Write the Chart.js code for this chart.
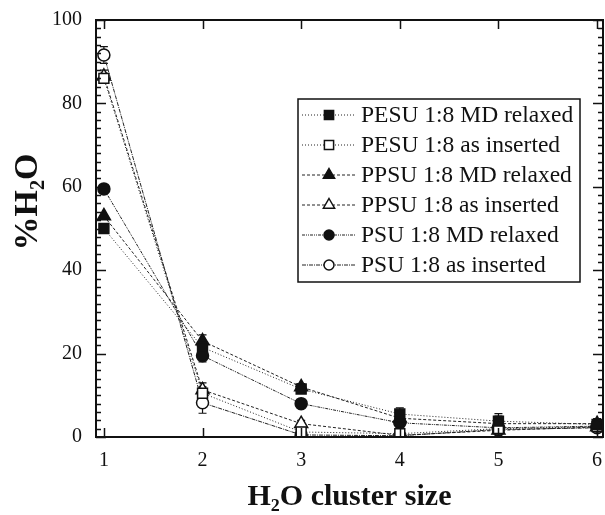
<!DOCTYPE html>
<html>
<head>
<meta charset="utf-8">
<script src="https://cdn.jsdelivr.net/npm/chart.js@4.4.1/dist/chart.umd.min.js"></script>
<style>
  html, body { margin: 0; padding: 0; background: #fff; }
</style>
</head>
<body>
<canvas id="myChart" width="605" height="515"></canvas>
<script>
// cluster sizes on the x axis
const clusterSizes = [1, 2, 3, 4, 5, 6]
const yTickValues = [0, 20, 40, 60, 80, 100]
const yTitle = '%H₂O'
const xTitle = 'H₂O cluster size'

const seriesLabels = [
  'PESU 1:8 MD relaxed',
  'PESU 1:8 as inserted',
  'PPSU 1:8 MD relaxed',
  'PPSU 1:8 as inserted',
  'PSU 1:8 MD relaxed',
  'PSU 1:8 as inserted',
]

// % H2O values
const pesuRelaxed  = [50.0, 21.5, 11.5, 5.5, 3.8, 3.0]
const pesuInserted = [86.0, 10.5, 1.2, 0.8, 2.0, 2.5]
const ppsuRelaxed  = [53.0, 23.0, 12.0, 4.5, 3.2, 3.2]
const ppsuInserted = [86.5, 11.3, 3.2, 0.4, 1.6, 2.4]
const psuRelaxed   = [59.5, 19.5, 8.0, 3.4, 2.2, 2.6]
const psuInserted  = [91.6, 8.2, 0.5, 0.3, 1.8, 2.2]

// error bar half widths
const pesuRelaxedErr  = [0, 0, 0, 1.5, 1.8, 1.2]
const pesuInsertedErr = [1.2, 1.5, 0, 0.8, 0, 0]
const ppsuRelaxedErr  = [0, 1.5, 0.8, 1.5, 1.8, 1.2]
const ppsuInsertedErr = [1.5, 1.7, 0.8, 0, 0, 0]
const psuRelaxedErr   = [0, 1.5, 0, 1.5, 1.8, 1.2]
const psuInsertedErr  = [2.0, 2.5, 0, 0, 0, 0]

const serif = "'Liberation Serif', 'Times New Roman', serif"
Chart.defaults.font.family = serif
Chart.defaults.color = '#111'

const toPoints = (values) => clusterSizes.map((x, i) => ({ x: x, y: values[i] }))

const makeSet = (label, values, errors, style, filled, dash, radius) => ({
  label: label,
  data: toPoints(values),
  errors: errors,
  borderColor: '#222',
  borderWidth: 1,
  borderDash: dash,
  pointStyle: style,
  pointRadius: radius,
  pointHoverRadius: radius,
  pointBackgroundColor: filled ? '#111' : '#fff',
  pointBorderColor: '#111',
  pointBorderWidth: 1.5,
  fill: false,
  tension: 0,
})

const datasets = [
  makeSet(seriesLabels[0], pesuRelaxed, pesuRelaxedErr, 'rect', true, [1, 2], 7),
  makeSet(seriesLabels[1], pesuInserted, pesuInsertedErr, 'rect', false, [1, 2], 7),
  makeSet(seriesLabels[2], ppsuRelaxed, ppsuRelaxedErr, 'triangle', true, [3, 2], 7.5),
  makeSet(seriesLabels[3], ppsuInserted, ppsuInsertedErr, 'triangle', false, [3, 2], 7.5),
  makeSet(seriesLabels[4], psuRelaxed, psuRelaxedErr, 'circle', true, [3, 1, 1, 1, 1, 1], 6),
  makeSet(seriesLabels[5], psuInserted, psuInsertedErr, 'circle', false, [4, 1, 1, 1], 6),
]

// vertical error bars, drawn under the markers
const errorBars = {
  id: 'errorBars',
  beforeDatasetsDraw(chart) {
    const ctx = chart.ctx
    const xs = chart.scales.x
    const ys = chart.scales.y
    ctx.save()
    ctx.strokeStyle = '#111'
    ctx.lineWidth = 1.2
    chart.data.datasets.forEach(ds => {
      ds.data.forEach((p, i) => {
        const e = ds.errors[i]
        if (!e) return
        const px = xs.getPixelForValue(p.x)
        const top = ys.getPixelForValue(Math.min(100, p.y + e))
        const bot = ys.getPixelForValue(Math.max(0, p.y - e))
        ctx.beginPath()
        ctx.moveTo(px, top); ctx.lineTo(px, bot)
        ctx.moveTo(px - 4, top); ctx.lineTo(px + 4, top)
        ctx.moveTo(px - 4, bot); ctx.lineTo(px + 4, bot)
        ctx.stroke()
      })
    })
    ctx.restore()
  }
}

// closed frame with inward ticks on all four sides, plus the y title
const frameTicks = {
  id: 'frameTicks',
  afterDraw(chart) {
    const ctx = chart.ctx
    const a = chart.chartArea
    const xs = chart.scales.x
    const ys = chart.scales.y
    ctx.save()
    ctx.strokeStyle = '#111'
    ctx.lineWidth = 1.5
    ctx.beginPath()
    for (const v of clusterSizes) {
      const px = Math.round(xs.getPixelForValue(v)) + 0.5
      ctx.moveTo(px, a.bottom); ctx.lineTo(px, a.bottom - 9)
      ctx.moveTo(px, a.top); ctx.lineTo(px, a.top + 9)
    }
    for (let v = 0; v <= 100; v += 2) {
      const py = Math.round(ys.getPixelForValue(v)) + 0.5
      const len = v % 20 === 0 ? 10 : 5
      ctx.moveTo(a.left, py); ctx.lineTo(a.left + len, py)
      ctx.moveTo(a.right, py); ctx.lineTo(a.right - len, py)
    }
    ctx.stroke()
    ctx.lineWidth = 2
    ctx.strokeRect(a.left, a.top, a.right - a.left, a.bottom - a.top)

    ctx.translate(28, 202)
    ctx.rotate(-Math.PI / 2)
    ctx.fillStyle = '#111'
    ctx.font = 'bold 34px ' + serif
    ctx.textAlign = 'center'
    ctx.textBaseline = 'middle'
    ctx.fillText(yTitle, 0, 0)
    ctx.restore()
  }
}

const drawMarker = (ctx, style, filled, x, y, r) => {
  ctx.beginPath()
  if (style === 'rect') {
    const s = r * Math.SQRT1_2
    ctx.rect(x - s, y - s, 2 * s, 2 * s)
  } else if (style === 'triangle') {
    ctx.moveTo(x, y - r)
    ctx.lineTo(x + r * 0.866, y + r * 0.5)
    ctx.lineTo(x - r * 0.866, y + r * 0.5)
    ctx.closePath()
  } else {
    ctx.arc(x, y, r, 0, Math.PI * 2)
  }
  ctx.fillStyle = filled ? '#111' : '#fff'
  ctx.fill()
  ctx.stroke()
}

// boxed legend in the upper right of the plot
const boxLegend = {
  id: 'boxLegend',
  afterDraw(chart) {
    const ctx = chart.ctx
    const left = 298, top = 99, right = 580, bottom = 282
    ctx.save()
    ctx.fillStyle = '#fff'
    ctx.fillRect(left, top, right - left, bottom - top)
    ctx.strokeStyle = '#111'
    ctx.lineWidth = 1.5
    ctx.strokeRect(left, top, right - left, bottom - top)
    chart.data.datasets.forEach((ds, i) => {
      const y = 115 + i * 30
      ctx.strokeStyle = '#222'
      ctx.lineWidth = 1
      ctx.setLineDash(ds.borderDash)
      ctx.beginPath()
      ctx.moveTo(302, y); ctx.lineTo(356, y)
      ctx.stroke()
      ctx.setLineDash([])
      ctx.strokeStyle = '#111'
      ctx.lineWidth = 1.5
      drawMarker(ctx, ds.pointStyle, ds.pointBackgroundColor === '#111', 329, y, ds.pointStyle === 'circle' ? 5 : 6.5)
      ctx.fillStyle = '#111'
      ctx.font = '23.5px ' + serif
      ctx.textBaseline = 'middle'
      ctx.fillText(ds.label, 361, y + 1)
    })
    ctx.restore()
  }
}

const ctx = document.getElementById('myChart').getContext('2d')
const chart = new Chart(ctx, {
  type: 'line',
  data: { datasets: datasets },
  options: {
    responsive: false,
    animation: false,
    layout: { autoPadding: false, padding: { top: 20, right: 2, left: 0, bottom: 0 } },
    plugins: {
      legend: { display: false },
      tooltip: { enabled: false },
    },
    scales: {
      x: {
        type: 'linear',
        min: 0.92,
        max: 6.06,
        grid: { display: false, drawTicks: false },
        border: { display: false },
        afterBuildTicks: (scale) => { scale.ticks = clusterSizes.map(v => ({ value: v })) },
        afterFit: (scale) => {
          scale.height = 78
          scale.paddingLeft = 0
          scale.paddingRight = 0
        },
        ticks: { padding: 12, font: { size: 20 }, color: '#111' },
        title: {
          display: true,
          text: xTitle,
          font: { size: 30, weight: 'bold' },
          color: '#111',
          padding: { top: 0, bottom: 0 },
        },
      },
      y: {
        min: 0,
        max: 100,
        grid: { display: false, drawTicks: false },
        border: { display: false },
        afterBuildTicks: (scale) => { scale.ticks = yTickValues.map(v => ({ value: v })) },
        afterFit: (scale) => {
          scale.width = 96
          scale.paddingTop = 0
          scale.paddingBottom = 0
        },
        ticks: { padding: 14, font: { size: 20 }, color: '#111' },
      },
    },
  },
  plugins: [errorBars, frameTicks, boxLegend],
})
</script>
</body>
</html>
